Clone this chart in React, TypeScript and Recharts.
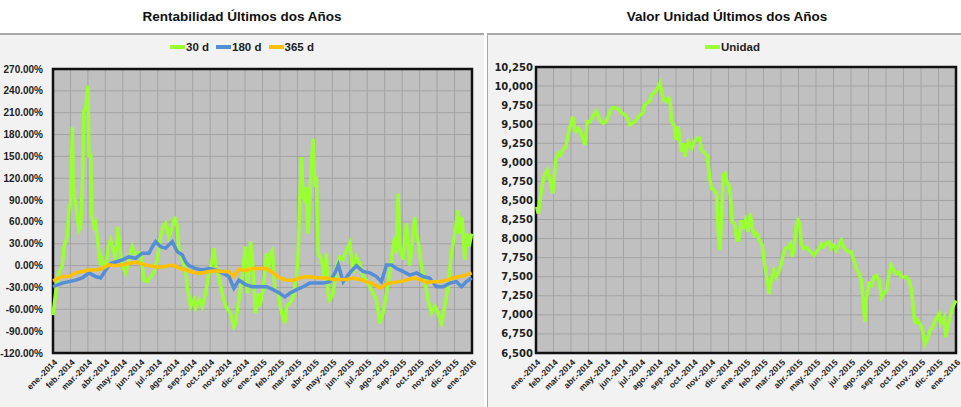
import { LineChart, Line, XAxis, YAxis, CartesianGrid, Legend, ReferenceArea } from 'recharts';

// etiquetas de meses (eje X de ambos gráficos)
const MESES = [
  'ene.-2014', 'feb.-2014', 'mar.-2014', 'abr.-2014', 'may.-2014', 'jun.-2014',
  'jul.-2014', 'ago.-2014', 'sep.-2014', 'oct.-2014', 'nov.-2014', 'dic.-2014',
  'ene.-2015', 'feb.-2015', 'mar.-2015', 'abr.-2015', 'may.-2015', 'jun.-2015',
  'jul.-2015', 'ago.-2015', 'sep.-2015', 'oct.-2015', 'nov.-2015', 'dic.-2015',
  'ene.-2016',
];
const MES_TICKS = MESES.map((_, i) => i);

const RENT_TICKS = [-120, -90, -60, -30, 0, 30, 60, 90, 120, 150, 180, 210, 240, 270];
const UNIDAD_TICKS = [6500, 6750, 7000, 7250, 7500, 7750, 8000, 8250, 8500, 8750, 9000, 9250, 9500, 9750, 10000, 10250];

// Rentabilidad 30 d (meses desde ene.-2014, %)
const t30 = [
  0, 0.15, 0.34, 0.53, 0.63, 0.82, 0.92, 1.01, 1.11, 1.16, 1.26, 1.39, 1.49, 1.58, 1.68, 1.77, 1.87, 2.0, 2.06, 2.16,
  2.21, 2.35, 2.44, 2.6, 2.73, 2.82, 3.02, 3.17, 3.3, 3.49, 3.59, 3.72, 3.82, 3.97, 4.16, 4.35, 4.54, 4.69, 4.83, 5.02,
  5.21, 5.4, 5.59, 5.78, 5.97, 6.16, 6.3, 6.45, 6.64, 6.83, 6.98, 7.12, 7.21, 7.4, 7.6, 7.69, 7.88, 8.07, 8.17, 8.36,
  8.55, 8.74, 8.93, 9.12, 9.22, 9.31, 9.5, 9.69, 9.89, 10.17, 10.36, 10.46, 10.65, 10.84, 11.03, 11.13, 11.32, 11.45, 11.6, 11.79,
  11.85, 12.04, 12.23, 12.32, 12.46, 12.57, 12.71, 12.9, 13.09, 13.28, 13.37, 13.56, 13.76, 13.95, 14.04, 14.14, 14.23, 14.33, 14.42, 14.52,
  14.61, 14.71, 14.81, 14.9, 15.0, 15.09, 15.19, 15.38, 15.57, 15.66, 15.76, 15.85, 16.05, 16.24, 16.43, 16.62, 16.81, 17.0, 17.19, 17.38,
  17.57, 17.76, 17.95, 18.15, 18.34, 18.53, 18.72, 18.91, 19.1, 19.29, 19.48, 19.58, 19.67, 19.77, 19.86, 20.05, 20.24, 20.44, 20.63, 20.72,
  20.82, 20.97, 21.1, 21.29, 21.48, 21.68, 21.87, 22.06, 22.25, 22.44, 22.63, 22.82, 23.02, 23.2, 23.3, 23.43, 23.58, 23.68, 23.83, 23.98,
];
const r30 = [
  -68, -38, -10, 0, 26, 40, 80, 85, 190, 108, 90, 67, 49, 53, 108, 213, 215, 247, 149, 154,
  72, 53, 58, 26, 0, 8, -6, 26, 35, 19, 8, 53, 26, 0, -10, 8, 26, 17, 17, 17,
  -20, -22, -15, -10, 8, 40, 53, 58, 40, 53, 67, 53, 21, 8, -6, -29, -56, -47, -58, -47,
  -56, -38, -10, 8, 24, 0, -15, -38, -56, -65, -84, -79, -47, -15, 26, -38, 33, 0, -65, -38,
  -56, -33, 17, -6, 17, 21, -33, -38, -65, -79, -56, -52, -43, -15, 17, 90, 149, 94, 90, 108,
  44, 90, 145, 174, 108, 122, 17, 8, -20, 17, -38, -47, -38, 0, 12, 8, 21, 31, -10, 12,
  3, -15, -20, -29, -38, -47, -79, -65, -38, -10, 26, 40, 17, 99, 26, 8, 58, 0, 44, 67,
  44, 26, 0, -20, -47, -65, -56, -65, -79, -56, -29, 17, 44, 76, 44, 67, 8, 44, 26, 44,
];

// Rentabilidad 180 d
const t180 = [
  0, 0.53, 0.92, 1.3, 1.68, 2.06, 2.44, 2.73, 3.02, 3.3, 3.59, 3.97, 4.35, 4.73, 5.11, 5.5, 5.69, 5.88, 6.16, 6.45,
  6.83, 7.12, 7.4, 7.6, 7.79, 8.17, 8.55, 8.93, 9.31, 9.69, 10.08, 10.36, 10.65, 11.03, 11.41,
  11.85, 12.23, 12.61, 12.99, 13.28, 13.56, 13.95, 14.33, 14.71, 15.09, 15.47, 15.85, 16.15, 16.34, 16.62, 17.0, 17.38, 17.76,
  18.15, 18.53, 18.81, 19.1, 19.39, 19.67, 20.05, 20.44, 20.82, 21.2, 21.58, 21.96, 22.34, 22.73, 23.11, 23.4, 23.68, 23.98,
];
const r180 = [
  -29, -24, -22, -20, -17, -10, -15, -17, -6, 3, 5, 8, 12, 10, 17, 17, 26, 33, 26, 24,
  33, 19, 15, 5, 0, -4, -6, -4, -6, -10, -15, -31, -20, -26, -29,
  -29, -29, -33, -38, -43, -38, -33, -29, -24, -24, -24, -22, -10, 1, -22, -10, 0, -8,
  -10, -15, -22, 1, 1, -4, -8, -13, -10, -15, -17, -29, -29, -24, -22, -29, -22, -17,
];

// Rentabilidad 365 d
const t365 = [
  0, 0.53, 0.92, 1.3, 1.68, 2.06, 2.44, 2.82, 3.21, 3.59, 3.97, 4.35, 4.73, 5.11, 5.5, 5.88, 6.26, 6.64, 6.93, 7.31,
  7.79, 8.17, 8.55, 8.93, 9.31, 9.69, 10.08, 10.36, 10.65, 11.03, 11.41,
  11.85, 12.23, 12.61, 12.99, 13.37, 13.76, 14.14, 14.52, 14.9, 15.28, 15.66, 16.05, 16.43, 16.81, 17.19, 17.57,
  17.95, 18.34, 18.72, 19.1, 19.48, 19.86, 20.24, 20.63, 21.01, 21.39, 21.77, 22.15, 22.53, 22.92, 23.3, 23.68, 23.98,
];
const r365 = [
  -21, -15, -15, -10, -8, -6, -6, -4, 1, 0, 1, 3, 5, 2, 0, -2, -2, 0, 0, -4,
  -7, -10, -10, -8, -7, -8, -8, -15, -5, -7, -4,
  -4, -4, -10, -17, -20, -20, -17, -15, -16, -17, -17, -19, -19, -19, -17, -19,
  -22, -25, -31, -25, -23, -22, -20, -17, -19, -23, -22, -22, -20, -17, -15, -13, -10,
];

// Valor unidad
const tUnidad = [
  0.04, 0.13, 0.23, 0.32, 0.42, 0.51, 0.65, 0.76, 0.86, 0.95, 1.03, 1.12, 1.28, 1.41, 1.52, 1.71, 1.85, 1.98, 2.1, 2.19,
  2.29, 2.42, 2.55, 2.7, 2.8, 2.93, 3.09, 3.18, 3.31, 3.43, 3.56, 3.71, 3.85, 4.0, 4.13, 4.27, 4.42, 4.61, 4.76, 4.9,
  5.09, 5.22, 5.37, 5.52, 5.66, 5.79, 5.94, 6.1, 6.17, 6.32, 6.48, 6.61, 6.74, 6.9, 6.99, 7.09, 7.18, 7.28, 7.43, 7.56,
  7.66, 7.75, 7.89, 8.0, 8.13, 8.23, 8.32, 8.42, 8.51, 8.7, 8.9, 9.03, 9.18, 9.33, 9.47, 9.66, 9.79, 9.94, 10.04, 10.17,
  10.32, 10.42, 10.51, 10.61, 10.7, 10.8, 10.93, 11.02, 11.11, 11.21, 11.34, 11.48, 11.59, 11.73, 11.82, 11.97, 12.11, 12.24, 12.35, 12.49,
  12.62, 12.77, 12.93, 13.06, 13.2, 13.31, 13.44, 13.58, 13.73, 13.88, 14.02, 14.15, 14.26, 14.4, 14.53, 14.65, 14.78, 14.87, 14.97, 15.06,
  15.16, 15.29, 15.45, 15.6, 15.73, 15.89, 16.02, 16.17, 16.31, 16.44, 16.59, 16.74, 16.88, 17.01, 17.16, 17.3, 17.45, 17.58, 17.74, 17.89,
  18.02, 18.16, 18.31, 18.46, 18.6, 18.69, 18.79, 18.89, 19.03, 19.17, 19.3, 19.45, 19.61, 19.74, 19.87, 20.03, 20.18, 20.31, 20.45, 20.6,
  20.75, 20.89, 21.02, 21.17, 21.32, 21.46, 21.55, 21.65, 21.74, 21.84, 21.94, 22.03, 22.13, 22.22, 22.32, 22.41, 22.51, 22.66, 22.79, 22.93,
  23.04, 23.12, 23.23, 23.33, 23.42, 23.52, 23.61, 23.71, 23.81, 23.9, 24.0,
];
const unidad = [
  8417, 8329, 8504, 8636, 8789, 8833, 8899, 8811, 8702, 8592, 8768, 9031, 9118, 9096, 9162, 9206, 9382, 9491, 9601, 9469,
  9404, 9447, 9404, 9294, 9228, 9535, 9535, 9579, 9623, 9667, 9601, 9535, 9513, 9535, 9601, 9689, 9719, 9711, 9689, 9645,
  9623, 9579, 9491, 9513, 9535, 9579, 9623, 9645, 9732, 9776, 9798, 9886, 9908, 9952, 9996, 10039, 9930, 9820, 9798, 9842,
  9820, 9535, 9491, 9294, 9469, 9294, 9140, 9250, 9075, 9272, 9184, 9272, 9316, 9316, 9162, 9118, 9075, 8767, 8658, 8636,
  8592, 8066, 7846, 8329, 8833, 8855, 8724, 8702, 8548, 8219, 8197, 7978, 7978, 8241, 8132, 8241, 8088, 8329, 8154, 8044,
  8066, 7978, 7912, 7671, 7496, 7276, 7452, 7583, 7496, 7583, 7671, 7803, 7868, 7890, 7934, 7759, 7934, 8175, 8241, 8197,
  7934, 7868, 7890, 7846, 7824, 7781, 7824, 7868, 7934, 7890, 7934, 7956, 7868, 7912, 7846, 7912, 7978, 7890, 7846, 7824,
  7824, 7715, 7605, 7539, 7452, 7189, 6904, 7232, 7408, 7386, 7496, 7518, 7452, 7232, 7276, 7320, 7539, 7649, 7583, 7539,
  7561, 7496, 7496, 7496, 7452, 7320, 7101, 6882, 6948, 6926, 6882, 6838, 6750, 6618, 6662, 6706, 6794, 6838, 6926, 6970,
  7013, 6882, 6926, 6970, 6706, 6838, 6926, 7013, 7101, 7145, 7189,
];

const serie = (t: number[], v: number[]) => t.map((m, i) => ({ m, v: v[i] }));

const GREEN = '#99ff33';
const BLUE = '#558ed5';
const ORANGE = '#ffc000';
const SANS = '"Liberation Sans", Arial, sans-serif';

const LEYENDA_RENT = [
  { name: '30 d', color: GREEN },
  { name: '180 d', color: BLUE },
  { name: '365 d', color: ORANGE },
];
const LEYENDA_UNIDAD = [{ name: 'Unidad', color: GREEN }];

function MonthTick({ x, y, payload }: any) {
  return (
    <text
      x={x + 3}
      y={y}
      dy="0.3em"
      textAnchor="end"
      transform={`rotate(-45 ${x + 3} ${y})`}
      fontFamily={SANS}
      fontWeight="bold"
      fontSize={8.5}
      fill="#222"
    >
      {MESES[payload.value]}
    </text>
  );
}

// el orden de la leyenda sigue el del gráfico original, no el alfabético
function LegendBox({ items }: { items: { name: string; color: string }[] }) {
  return (
    <div style={{ display: 'flex', justifyContent: 'center', gap: 7, font: `bold 11.5px ${SANS}`, color: '#222' }}>
      {items.map((p) => (
        <span key={p.name} style={{ display: 'flex', alignItems: 'center' }}>
          <span style={{ display: 'inline-block', width: 15, height: 3.5, background: p.color, marginRight: 1 }} />
          {p.name}
        </span>
      ))}
    </div>
  );
}

const panel = {
  position: 'absolute' as const,
  top: 33,
  height: 374,
  background: '#f2f2f2',
  borderTop: '2px solid #a8a8a8',
  boxSizing: 'border-box' as const,
};

const title = {
  position: 'absolute' as const,
  top: 9,
  textAlign: 'center' as const,
  font: `bold 13.5px ${SANS}`,
  color: '#111',
};

export default function App() {
  return (
    <div style={{ position: 'absolute', left: 0, top: 0, width: 961, height: 407, background: '#fff', overflow: 'hidden' }}>
      <div style={{ ...title, left: 0, width: 484 }}>Rentabilidad Últimos dos Años</div>
      <div style={{ ...title, left: 490, width: 474 }}>Valor Unidad Últimos dos Años</div>

      <div style={{ ...panel, left: 0, width: 484 }}>
        <LineChart width={484} height={372} margin={{ top: 34, right: 12, bottom: 0, left: 0 }}>
          <CartesianGrid fill="#c0c0c0" fillOpacity={1} stroke="#a3a3a3" />
          <XAxis
            type="number"
            dataKey="m"
            domain={[0, 24]}
            ticks={MES_TICKS}
            interval={0}
            axisLine={false}
            tickLine={false}
            height={54}
            tick={<MonthTick />}
          />
          <YAxis
            type="number"
            domain={[-120, 270]}
            ticks={RENT_TICKS}
            interval={0}
            width={53}
            axisLine={false}
            tickLine={false}
            tickMargin={4}
            tickFormatter={(v: number) => `${v.toFixed(2)}%`}
            tick={{ fontFamily: SANS, fontWeight: 'bold', fontSize: 10, fill: '#222' }}
          />
          <Legend
            verticalAlign="middle"
            align="center"
            wrapperStyle={{ top: 6, left: 0, width: 484 }}
            content={<LegendBox items={LEYENDA_RENT} />}
          />
          <ReferenceArea x1={0} x2={24} y1={-120} y2={270} fill="none" stroke="#111" strokeWidth={2.5} ifOverflow="visible" />
          <Line data={serie(t30, r30)} dataKey="v" name="30 d" stroke={GREEN} strokeWidth={3.5} dot={false} isAnimationActive={false} />
          <Line data={serie(t180, r180)} dataKey="v" name="180 d" stroke={BLUE} strokeWidth={3.5} dot={false} isAnimationActive={false} />
          <Line data={serie(t365, r365)} dataKey="v" name="365 d" stroke={ORANGE} strokeWidth={3.5} dot={false} isAnimationActive={false} />
        </LineChart>
      </div>

      <div style={{ ...panel, left: 487, width: 474, borderLeft: '1px solid #a8a8a8' }}>
        <LineChart width={473} height={372} margin={{ top: 32, right: 5, bottom: 0, left: 0 }}>
          <CartesianGrid fill="#c0c0c0" fillOpacity={1} stroke="#a3a3a3" />
          <XAxis
            type="number"
            dataKey="m"
            domain={[0, 24]}
            ticks={MES_TICKS}
            interval={0}
            axisLine={false}
            tickLine={false}
            height={54}
            tick={<MonthTick />}
          />
          <YAxis
            type="number"
            domain={[6500, 10250]}
            ticks={UNIDAD_TICKS}
            interval={0}
            width={48}
            axisLine={false}
            tickLine={false}
            tickSize={0}
            tickMargin={3}
            tickFormatter={(v: number) => v.toLocaleString('en-US')}
            tick={{ fontFamily: '"DejaVu Sans", sans-serif', fontWeight: 'bold', fontSize: 10, fill: '#222' }}
          />
          <Legend
            verticalAlign="middle"
            align="center"
            wrapperStyle={{ top: 6, left: 8, width: 473 }}
            content={<LegendBox items={LEYENDA_UNIDAD} />}
          />
          <ReferenceArea x1={0} x2={24} y1={6500} y2={10250} fill="none" stroke="#111" strokeWidth={2.5} ifOverflow="visible" />
          <Line data={serie(tUnidad, unidad)} dataKey="v" name="Unidad" stroke={GREEN} strokeWidth={3.5} dot={false} isAnimationActive={false} />
        </LineChart>
      </div>
    </div>
  );
}
